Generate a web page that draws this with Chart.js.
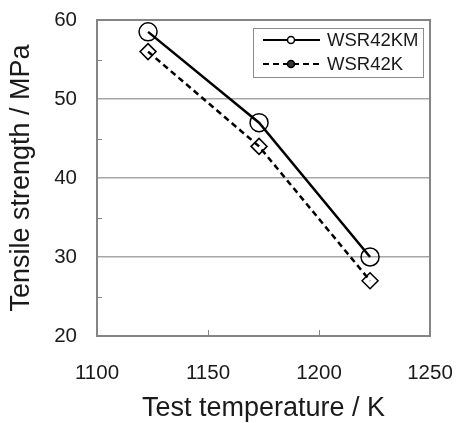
<!DOCTYPE html>
<html>
<head>
<meta charset="utf-8">
<script src="https://cdn.jsdelivr.net/npm/chart.js@4"></script>
<style>
  html, body { margin: 0; padding: 0; background: #fff; }
  #wrap { width: 456px; height: 423px; }
</style>
</head>
<body>
<div id="wrap"><canvas id="chart" width="456" height="423"></canvas></div>
<script>
// values
const temps = [1123, 1173, 1223];
const wsr42km = [58.5, 47, 30];
const wsr42k = [56, 44, 27];
const seriesNames = ['WSR42KM', 'WSR42K'];
const xTicks = [1100, 1150, 1200, 1250];
const yTicks = [20, 30, 40, 50, 60];

const FONT = "'Liberation Sans', Arial, sans-serif";
const INK = '#1a1a1a';
const FRAME = '#858585';

// frame, inward minor ticks and the boxed legend
const decorations = {
  id: 'decorations',
  afterDatasetsDraw(chart) {
    const { ctx, chartArea: a, scales: { x, y } } = chart;
    ctx.save();
    ctx.strokeStyle = FRAME;
    ctx.lineWidth = 2;
    ctx.strokeRect(a.left, a.top, a.right - a.left, a.bottom - a.top);

    ctx.lineWidth = 1;
    [25, 35, 45, 55].forEach(v => {
      const py = Math.round(y.getPixelForValue(v)) + 0.5;
      ctx.beginPath(); ctx.moveTo(a.left, py); ctx.lineTo(a.left + 5, py); ctx.stroke();
    });
    [1150, 1200].forEach(v => {
      const px = Math.round(x.getPixelForValue(v)) + 0.5;
      ctx.beginPath(); ctx.moveTo(px, a.bottom); ctx.lineTo(px, a.bottom - 6); ctx.stroke();
    });

    // legend
    const bx = 253, by = 28, bw = 170, bh = 49;
    ctx.fillStyle = '#fff';
    ctx.fillRect(bx, by, bw, bh);
    ctx.strokeStyle = '#8c8c8c';
    ctx.lineWidth = 1;
    ctx.strokeRect(bx + 0.5, by + 0.5, bw, bh);
    chart.data.datasets.forEach((ds, i) => {
      const ry = 40 + i * 24;
      ctx.strokeStyle = '#000';
      ctx.lineWidth = 2;
      ctx.setLineDash(ds.borderDash || []);
      ctx.beginPath(); ctx.moveTo(263, ry); ctx.lineTo(320, ry); ctx.stroke();
      ctx.setLineDash([]);
      ctx.lineWidth = 1.5;
      ctx.beginPath();
      ctx.arc(291, ry, 3.5, 0, Math.PI * 2);
      ctx.fillStyle = i === 0 ? '#fff' : '#333';
      ctx.fill();
      ctx.stroke();
      ctx.fillStyle = INK;
      ctx.font = '18.5px ' + FONT;
      ctx.textBaseline = 'middle';
      ctx.textAlign = 'left';
      ctx.fillText(ds.label, 327, ry + 1);
    });
    ctx.restore();
  }
};

new Chart(document.getElementById('chart'), {
  type: 'line',
  data: {
    datasets: [
      {
        label: seriesNames[0],
        data: temps.map((t, i) => ({ x: t, y: wsr42km[i] })),
        borderColor: '#000',
        borderWidth: 2.5,
        pointStyle: 'circle',
        pointRadius: 9,
        pointBorderWidth: 1.5,
        pointBorderColor: '#000',
        pointBackgroundColor: 'rgba(0,0,0,0)',
        tension: 0
      },
      {
        label: seriesNames[1],
        data: temps.map((t, i) => ({ x: t, y: wsr42k[i] })),
        borderColor: '#000',
        borderWidth: 2.5,
        borderDash: [6, 4],
        pointStyle: 'rectRot',
        pointRadius: 8,
        pointBorderWidth: 1.5,
        pointBorderColor: '#000',
        pointBackgroundColor: 'rgba(0,0,0,0)',
        tension: 0
      }
    ]
  },
  options: {
    responsive: false,
    animation: false,
    layout: { padding: { top: 20, right: 26, left: 0, bottom: 0 } },
    plugins: { legend: { display: false }, tooltip: { enabled: false } },
    scales: {
      x: {
        type: 'linear',
        min: 1100,
        max: 1250,
        afterFit: s => { s.height = 87; s.paddingLeft = 0; s.paddingRight = 0; },
        afterBuildTicks: s => { s.ticks = xTicks.map(v => ({ value: v })); },
        grid: { display: false, drawTicks: false },
        border: { display: false },
        ticks: {
          padding: 25, color: INK, font: { family: FONT, size: 20.5 },
          callback: v => String(v)
        },
        title: {
          display: true,
          text: 'Test temperature / K',
          color: INK,
          font: { family: FONT, size: 27 },
          padding: { top: 0, bottom: -2 }
        }
      },
      y: {
        min: 20,
        max: 60,
        afterFit: s => { s.width = 97; s.paddingTop = 0; s.paddingBottom = 0; },
        afterBuildTicks: s => { s.ticks = yTicks.map(v => ({ value: v })); },
        grid: {
          drawTicks: false,
          color: c => (c.tick && c.tick.value > 20 && c.tick.value < 60) ? '#a6a6a6' : 'rgba(0,0,0,0)',
          lineWidth: 1.5
        },
        border: { display: false },
        ticks: {
          padding: 20, color: INK, font: { family: FONT, size: 20.5 },
          callback: v => String(v)
        },
        title: {
          display: true,
          text: 'Tensile strength / MPa',
          color: INK,
          font: { family: FONT, size: 27 },
          padding: { top: 5, bottom: 0 }
        }
      }
    }
  },
  plugins: [decorations]
});
</script>
</body>
</html>
